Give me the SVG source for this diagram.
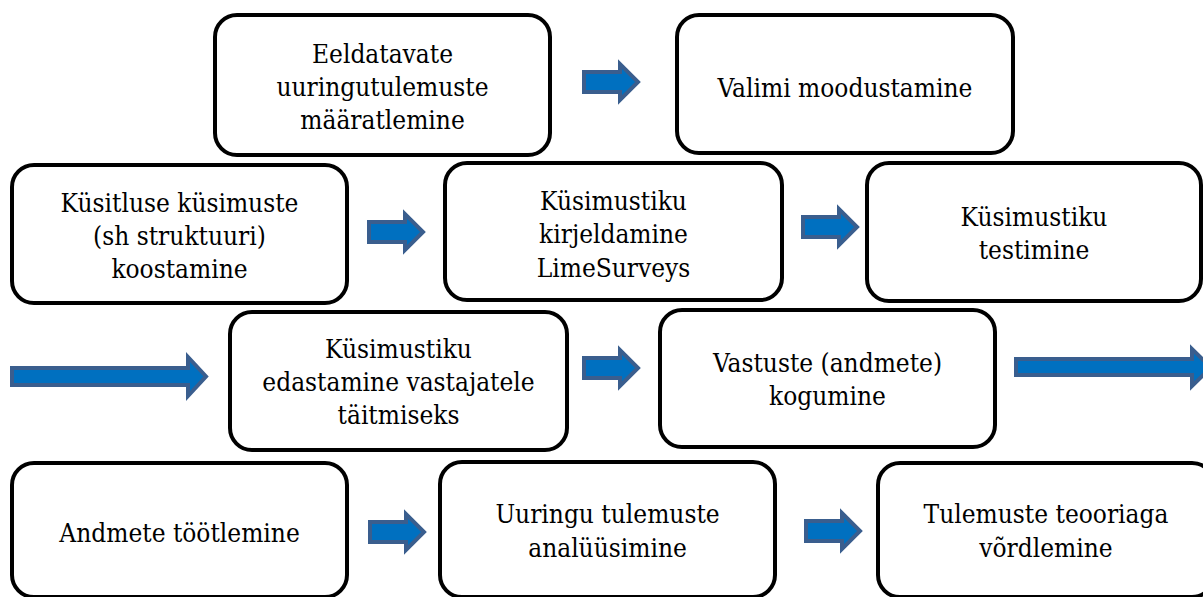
<svg xmlns="http://www.w3.org/2000/svg" xmlns:xlink="http://www.w3.org/1999/xlink" width="1203" height="597" viewBox="0 0 1203 597">
<style>
.box{fill:#fff;stroke:#000;stroke-width:4}
.t{font-family:'DejaVu Serif Condensed','DejaVu Serif',serif;font-stretch:condensed;font-size:26px;fill:#000;text-anchor:middle}
.arr{fill:#0070C0;stroke:#3A5E8E;stroke-width:4;stroke-linejoin:miter}
</style>
<defs>
<path id="sa" class="arr" d="M2,10 H38 V2 L56,20 L38,38 V30 H2 Z"/>
</defs>
<rect width="1203" height="597" fill="#fff"/>
<g id="connectors">
<use xlink:href="#sa" href="#sa" x="582" y="62"/>
<use xlink:href="#sa" href="#sa" x="367" y="212"/>
<use xlink:href="#sa" href="#sa" x="801" y="207"/>
<use xlink:href="#sa" href="#sa" x="582" y="348"/>
<use xlink:href="#sa" href="#sa" x="368" y="512"/>
<use xlink:href="#sa" href="#sa" x="804" y="511"/>
<path class="arr" d="M12,368 H188 V357 L206,376.5 L188,396 V385 H12 Z"/>
<path class="arr" d="M1016,359 H1192 V349 L1211,367.5 L1192,386 V375 H1016 Z"/>
</g>
<g id="n1"><rect class="box" x="215" y="15" width="335" height="140" rx="22"/>
<text class="t" x="382.5" y="63">Eeldatavate</text><text class="t" x="382.5" y="96">uuringutulemuste</text><text class="t" x="382.5" y="129">määratlemine</text></g>
<g id="n2"><rect class="box" x="677" y="15" width="336" height="138" rx="22"/>
<text class="t" x="845" y="97">Valimi moodustamine</text></g>
<g id="n3"><rect class="box" x="12" y="165" width="335" height="138" rx="22"/>
<text class="t" x="179.5" y="212">Küsitluse küsimuste</text><text class="t" x="179.5" y="245">(sh struktuuri)</text><text class="t" x="179.5" y="278">koostamine</text></g>
<g id="n4"><rect class="box" x="445" y="163" width="337" height="137" rx="22"/>
<text class="t" x="613.5" y="210">Küsimustiku</text><text class="t" x="613.5" y="243">kirjeldamine</text><text class="t" x="613.5" y="277">LimeSurveys</text></g>
<g id="n5"><rect class="box" x="867" y="163" width="334" height="138" rx="22"/>
<text class="t" x="1034" y="226">Küsimustiku</text><text class="t" x="1034" y="259">testimine</text></g>
<g id="n6"><rect class="box" x="230" y="312" width="337" height="138" rx="22"/>
<text class="t" x="398.5" y="358">Küsimustiku</text><text class="t" x="398.5" y="391">edastamine vastajatele</text><text class="t" x="398.5" y="424">täitmiseks</text></g>
<g id="n7"><rect class="box" x="660" y="310" width="335" height="137" rx="22"/>
<text class="t" x="827.5" y="372">Vastuste (andmete)</text><text class="t" x="827.5" y="405">kogumine</text></g>
<g id="n8"><rect class="box" x="12" y="463" width="335" height="134" rx="22"/>
<text class="t" x="179.5" y="542">Andmete töötlemine</text></g>
<g id="n9"><rect class="box" x="440" y="462" width="335" height="135" rx="22"/>
<text class="t" x="607.5" y="523">Uuringu tulemuste</text><text class="t" x="607.5" y="557">analüüsimine</text></g>
<g id="n10"><rect class="box" x="878" y="463" width="336" height="134" rx="22"/>
<text class="t" x="1046" y="523">Tulemuste teooriaga</text><text class="t" x="1046" y="557">võrdlemine</text></g>
</svg>
